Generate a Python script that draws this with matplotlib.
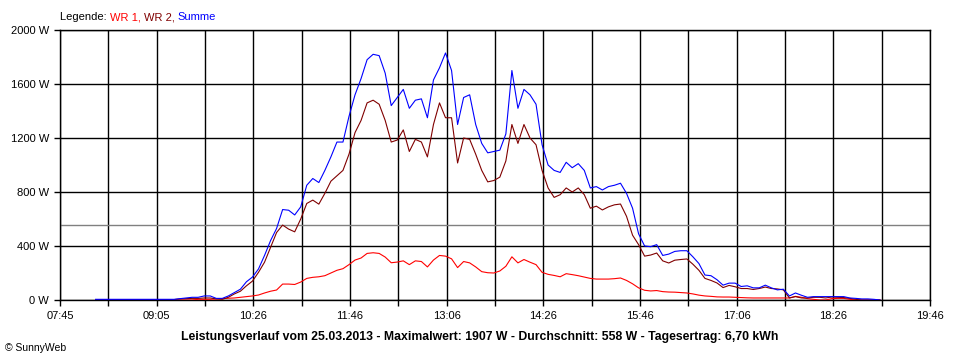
import numpy as np
import pandas as pd
import matplotlib
matplotlib.use("Agg")
import matplotlib.pyplot as plt

plt.rcParams['font.family'] = ['Liberation Sans', 'DejaVu Sans']

# Messzeitpunkte (alle 5 Minuten)
zeiten = pd.date_range("2013-03-25 08:15", "2013-03-25 19:05", freq="5min")

# Leistung in W
wr1 = [0, 0, 0, 0, 0, 0, 0, 0, 0, 0, 0, 0, 0, 0, 0, 0, 0,
       5, 5, 5, 8, 10, 13, 15, 20, 25, 30, 37, 52, 65, 74,
       118, 118, 115, 133, 160, 168, 172, 180, 200, 220, 232, 262, 296, 311,
       345, 350, 345, 318, 276, 281, 290, 262, 290, 285, 245, 296, 330, 325,
       305, 240, 285, 275, 245, 210, 202, 200, 215, 250, 320, 275, 300, 280,
       262, 205, 190, 182, 172, 195, 188, 180, 170, 160, 155, 155, 155, 158,
       163, 145, 120, 90, 72, 67, 70, 62, 59, 58, 55, 52, 45, 36, 30, 27,
       23, 22, 22, 20, 18, 16, 15, 15, 15, 15, 15, 15, 15, 27, 20, 10, 5,
       0, 0, 10, 12, 12, 5, 0, 0, 0, 0, 0]
wr2 = [3, 3, 3, 3, 3, 3, 3, 3, 3, 3, 3, 3, 3, 3,
       8, 10, 12, 12, 15, 15, 8, 5, 20, 45, 65, 105, 140, 205, 280, 390,
       500, 555, 525, 505, 600, 715, 740, 710, 790, 880, 920, 960, 1080, 1240,
       1330, 1460, 1480, 1450, 1330, 1170, 1185, 1260, 1100, 1190, 1170, 1060,
       1300, 1460, 1350, 1350, 1015, 1200, 1190, 1080, 960, 875, 885, 910,
       1030, 1300, 1160, 1300, 1200, 1150, 960, 830, 760, 780, 830, 800, 830,
       780, 680, 695, 667, 690, 705, 711, 620, 480, 410, 325, 333, 348, 290,
       274, 295, 300, 304, 265, 220, 160, 145, 126, 92, 108, 98, 85, 85, 78,
       85, 96, 85, 82, 75, 15, 25, 15, 15, 20, 20, 15, 22, 20, 18, 12, 5,
       0, 0, 0, 0]
summe = [5, 5, 5, 5, 5, 5, 5, 5, 5, 5, 5, 5, 5, 5,
         10, 15, 20, 20, 30, 30, 12, 12, 30, 55, 80, 135, 170, 230, 330, 440,
         530, 670, 665, 630, 690, 850, 900, 870, 960, 1060, 1170, 1170, 1360,
         1520, 1640, 1780, 1820, 1810, 1680, 1440, 1500, 1560, 1420, 1480,
         1490, 1350, 1630, 1720, 1830, 1700, 1300, 1500, 1520, 1300, 1160,
         1090, 1100, 1110, 1230, 1700, 1420, 1560, 1520, 1450, 1150, 1000,
         960, 945, 1020, 980, 1010, 960, 830, 840, 815, 840, 850, 865, 790,
         680, 490, 400, 395, 410, 330, 340, 360, 365, 365, 320, 270, 185,
         180, 150, 110, 125, 125, 100, 105, 90, 90, 110, 90, 75, 80, 30, 52,
         35, 20, 25, 25, 25, 25, 25, 25, 15, 12, 8, 8, 5, 0]

durchschnitt = 558
y_ticks = [0, 400, 800, 1200, 1600, 2000]
x_labels = ["07:45", "09:05", "10:26", "11:46", "13:06",
            "14:26", "15:46", "17:06", "18:26", "19:46"]
titel = ("Leistungsverlauf vom 25.03.2013 - Maximalwert: 1907 W - "
         "Durchschnitt: 558 W - Tagesertrag: 6,70 kWh")

minuten = np.array(zeiten.hour * 60 + zeiten.minute, dtype=float)
x_min, x_max = 465.5, 1186.5

fig = plt.figure(figsize=(9.6, 3.6), dpi=100)
ax = fig.add_axes([60 / 960, 60 / 360, 870 / 960, 270 / 360])

grid_x = np.linspace(x_min, x_max, 19)
for gx in grid_x:
    ax.axvline(gx, color="black", lw=1.0, zorder=1)
for gy in y_ticks:
    ax.axhline(gy, color="black", lw=1.0, zorder=1)
ax.axhline(durchschnitt, color="#808080", lw=1.0, zorder=1)

ax.plot(minuten, wr1, color="#ff0000", lw=0.8, zorder=3)
ax.plot(minuten, wr2, color="#800000", lw=0.8, zorder=3)
ax.plot(minuten, summe, color="#0000ff", lw=0.8, zorder=4)

ax.set_xlim(x_min, x_max)
ax.set_ylim(0, 2000)
ax.set_xticks(grid_x)
ax.set_xticklabels([x_labels[j // 2] if j % 2 == 0 else "" for j in range(19)])
ax.set_yticks(y_ticks)
ax.set_yticklabels([f"{v} W" for v in y_ticks])
ax.tick_params(axis="both", length=4, width=1.0, color="black",
               labelsize=8, pad=4)
for s in ax.spines.values():
    s.set_linewidth(1.0)

fig.text(480 / 960, 1 - 337 / 360, titel, ha="center", va="center",
         fontsize=8.8, fontweight="bold")
fig.text(5 / 960, 1 - 348 / 360, "© SunnyWeb", ha="left", va="center",
         fontsize=7.5)

# Legende oben links, mehrfarbig
t = fig.text(60 / 960, 1 - 17 / 360, "Legende: ", ha="left", va="center",
             fontsize=8, color="black")
for txt, col in [("WR 1, ", "#ff0000"), ("WR 2, ", "#800000"),
                 ("Summe", "#0000ff")]:
    t = ax.annotate(txt, xy=(1, 0), xycoords=t, ha="left", va="bottom",
                    fontsize=8, color=col, annotation_clip=False)

fig.savefig("out.png", dpi=100, facecolor="white")
